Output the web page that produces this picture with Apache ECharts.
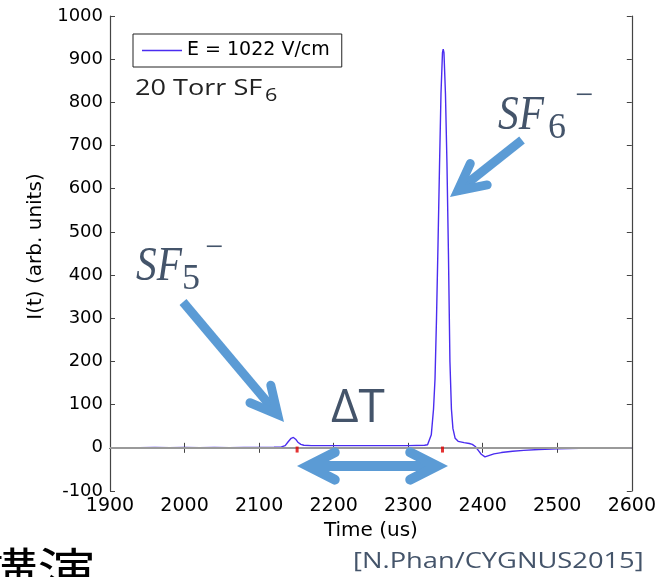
<!DOCTYPE html>
<html><head><meta charset="utf-8">
<script src="https://cdn.jsdelivr.net/npm/echarts@6/dist/echarts.min.js"></script>
<style>html,body{margin:0;padding:0;background:#fff}#c{width:659px;height:577px}</style>
</head><body><div id="c"></div>
<script>
// ---- data ----
const seriesName = 'E = 1022 V/cm';
const timeUs = [1900,1920,1940,1960,1980,2000,2020,2040,2060,2080,2100,2120,2130,2135,2139,2143,2146,2149,2152,2156,2160,2170,2200,2250,2300,2322,2326,2328,2331,2334,2336,2338,2340,2342,2344,2346,2347,2348,2350,2352,2354,2356,2358,2360,2363,2367,2375,2382,2386,2390,2394,2398,2403,2408,2415,2425,2440,2455,2475,2500,2530,2560,2600];
const current = [0,0.5,0,1,0.5,1,0.5,1,0.5,1,1,1.5,2,5,14,22,24,20,13,8,6,5,5,5,5,6,7,8,30,90,160,300,470,650,820,915,923,915,820,660,450,200,90,45,22,15,12,10,8,3,-6,-15,-21,-18,-14,-11,-8,-6,-4,-2,-1,0,0];
const markerTimes = [2151, 2346];
const markerValues = [-4, -4];
const xMin = 1900, xMax = 2600, xStep = 100;
const yMin = -100, yMax = 1000, yStep = 100;
const xName = 'Time (us)';
const yName = 'I(t) (arb. units)';
const gasLabel = '20 Torr SF';
const gasSub = '6';
const citation = '[N.Phan/CYGNUS2015]';
const cornerText = '講演';

const lineData = timeUs.map((t, i) => [t, current[i]]);
const markerData = markerTimes.map((t, i) => [t, markerValues[i]]);

const ARROW = '#5B9BD5';
const SLATE = '#44546A';
function arrowParts(x1, y1, x2, y2, w, len, theta) {
  const dx = x2 - x1, dy = y2 - y1, L = Math.hypot(dx, dy), ux = dx / L, uy = dy / L;
  const back = (w / 2) / Math.sin(theta);
  const ix = x2 - ux * back, iy = y2 - uy * back;
  const rot = a => { const c = Math.cos(a), s = Math.sin(a); return [-(ux * c - uy * s), -(ux * s + uy * c)]; };
  const r1 = rot(theta), r2 = rot(-theta);
  return { inner: [ix, iy], head: [[ix + r1[0] * len, iy + r1[1] * len], [ix, iy], [ix + r2[0] * len, iy + r2[1] * len]] };
}
function arrowGraphics(x1, y1, x2, y2, w, len, theta, both) {
  const a = arrowParts(x1, y1, x2, y2, w, len, theta);
  const out = [];
  let s = [x1, y1];
  if (both) {
    const b = arrowParts(x2, y2, x1, y1, w, len, theta);
    s = b.inner;
    out.push({ type: 'polyline', z: 100, shape: { points: b.head }, style: { stroke: ARROW, fill: null, lineWidth: w, lineCap: 'round', lineJoin: 'miter' } });
  }
  out.push({ type: 'line', z: 100, shape: { x1: s[0], y1: s[1], x2: a.inner[0], y2: a.inner[1] }, style: { stroke: ARROW, lineWidth: w, lineCap: 'butt' } });
  out.push({ type: 'polyline', z: 100, shape: { points: a.head }, style: { stroke: ARROW, fill: null, lineWidth: w, lineCap: 'round', lineJoin: 'miter' } });
  return out;
}
function txt(x, y, text, font, fill, sx) {
  return { type: 'text', z: 100, x: x, y: y, scaleX: sx || 1, style: { x: 0, y: 0, text: text, font: font, fill: fill, align: 'left', verticalAlign: 'middle' } };
}

const TH = 27 * Math.PI / 180;
const graphics = [].concat(
  arrowGraphics(522, 140, 450, 197, 9, 30, TH, false),
  arrowGraphics(183, 302, 284, 422, 9, 30, TH, false),
  arrowGraphics(297, 466, 448, 466, 10, 30, TH, true),
  [
    txt(135, 89, gasLabel, '21px "Open Sans"', '#222', 1.29),
    txt(265, 96, gasSub, '18px "Open Sans"', '#222', 1.2),
    txt(498, 116.7, 'SF', 'italic 48px "Liberation Serif"', SLATE, 0.86),
    txt(548, 128.7, '6', '36px "Liberation Serif"', SLATE, 1),
    txt(575, 96.5, '\u2212', '32px "Liberation Serif"', SLATE, 1),
    txt(136, 267.2, 'SF', 'italic 48px "Liberation Serif"', SLATE, 0.86),
    txt(182, 280, '5', '36px "Liberation Serif"', SLATE, 1),
    txt(205, 248.5, '\u2212', '32px "Liberation Serif"', SLATE, 1),
    txt(331, 409, '\u0394T', '45px "Open Sans"', SLATE, 1.06),
    txt(353, 562, citation, '22px "Open Sans"', SLATE, 1.24),
    txt(-20, 571, cornerText, '50px "Noto Sans CJK JP"', '#000', 1.15)
  ]
);

const axisLine = { show: true, lineStyle: { color: '#444', width: 1.2 } };
const tick = { show: true, inside: true, length: 5, lineStyle: { color: '#444', width: 1 } };
const plain = v => String(v);
const chart = echarts.init(document.getElementById('c'), null, { renderer: 'canvas' });
chart.setOption({
  animation: false,
  backgroundColor: '#fff',
  grid: { left: 110, right: 27, top: 16, bottom: 86, containLabel: false },
  legend: {
    left: 133, top: 34, orient: 'horizontal',
    data: [{ name: seriesName, icon: 'rect' }],
    itemWidth: 40, itemHeight: 1.5,
    padding: [7, 12, 7, 9],
    borderColor: '#222', borderWidth: 1, borderRadius: 0, backgroundColor: '#fff',
    textStyle: { fontFamily: 'DejaVu Sans', fontSize: 19, color: '#000' }
  },
  xAxis: [
    { type: 'value', position: 'bottom', min: xMin, max: xMax, interval: xStep,
      axisLine: axisLine, axisTick: tick, splitLine: { show: false },
      axisLabel: { fontFamily: 'DejaVu Sans', fontSize: 19, color: '#000', margin: 6, formatter: plain },
      name: xName, nameLocation: 'middle', nameGap: 26,
      nameTextStyle: { fontFamily: 'DejaVu Sans', fontSize: 20, color: '#000' } },
    { type: 'value', position: 'top', min: xMin, max: xMax, interval: xStep,
      axisLine: axisLine, axisTick: tick, splitLine: { show: false }, axisLabel: { show: false } }
  ],
  yAxis: [
    { type: 'value', position: 'left', min: yMin, max: yMax, interval: yStep,
      axisLine: axisLine, axisTick: tick, splitLine: { show: false },
      axisLabel: { fontFamily: 'DejaVu Sans', fontSize: 18, color: '#000', margin: 7, formatter: plain },
      name: yName, nameLocation: 'middle', nameGap: 60, nameRotate: 90,
      nameTextStyle: { fontFamily: 'DejaVu Sans', fontSize: 20, color: '#000', padding: [0, 0, 0, 14] } },
    { type: 'value', position: 'right', min: yMin, max: yMax, interval: yStep,
      axisLine: axisLine, axisTick: tick, splitLine: { show: false }, axisLabel: { show: false } }
  ],
  series: [
    { name: seriesName, type: 'line', data: lineData, xAxisIndex: 0, yAxisIndex: 0,
      symbol: 'none', showSymbol: false, smooth: false,
      lineStyle: { color: '#4a2cf0', width: 1.4 }, itemStyle: { color: '#4a2cf0' },
      markLine: { silent: true, symbol: ['none', 'none'], label: { show: false },
        lineStyle: { color: '#9a9a9a', width: 2, type: 'solid' }, data: [{ yAxis: 0 }] } },
    { name: 'markers', type: 'scatter', data: markerData, symbol: 'rect', symbolSize: [3, 6],
      itemStyle: { color: '#dd0000' }, z: 5 }
  ],
  graphic: graphics
});
</script></body></html>
